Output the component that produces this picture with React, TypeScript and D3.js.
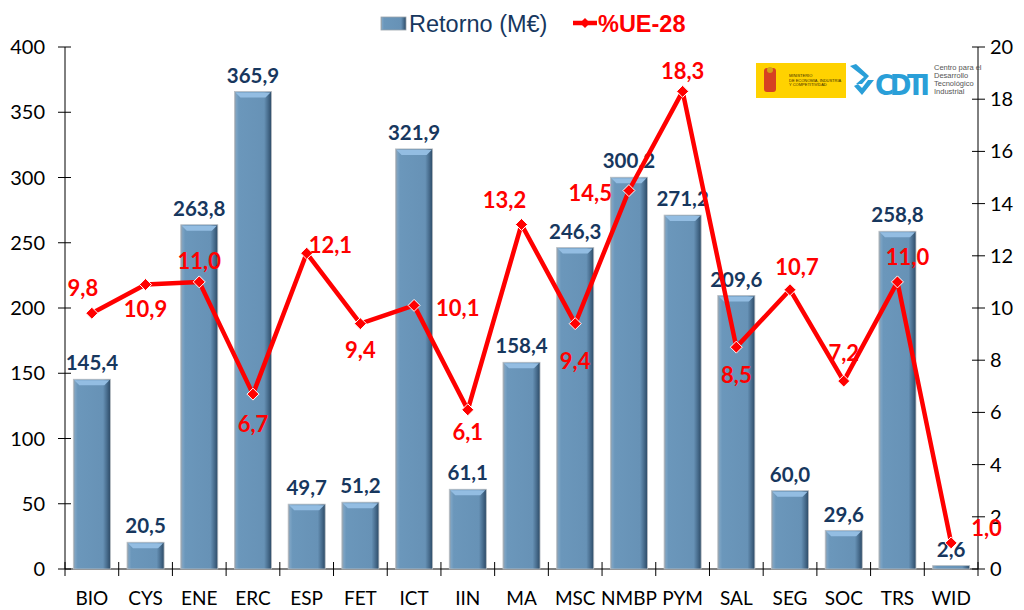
import React, { useEffect, useRef } from "react";
import * as d3 from "d3";

// ---- data ----
const categories = ["BIO", "CYS", "ENE", "ERC", "ESP", "FET", "ICT", "IIN", "MA", "MSC", "NMBP", "PYM", "SAL", "SEG", "SOC", "TRS", "WID"];
const retorno = [145.4, 20.5, 263.8, 365.9, 49.7, 51.2, 321.9, 61.1, 158.4, 246.3, 300.2, 271.2, 209.6, 60.0, 29.6, 258.8, 2.6];
const ue28 = [9.8, 10.9, 11.0, 6.7, 12.1, 9.4, 10.1, 6.1, 13.2, 9.4, 14.5, 18.3, 8.5, 10.7, 7.2, 11.0, 1.0];
const leftTicks = [0, 50, 100, 150, 200, 250, 300, 350, 400];
const rightTicks = [0, 2, 4, 6, 8, 10, 12, 14, 16, 18, 20];

// label placement for the %UE-28 points: [dx, dy, anchor]
const ueLabelPlace: [number, number, string][] = [
  [-9, -25, "middle"], [0, 25, "middle"], [0, -21, "middle"], [0, 30, "middle"], [2, -8, "start"],
  [0, 27, "middle"], [22, 3, "start"], [0, 23, "middle"], [-17, -24, "middle"], [0, 38, "middle"],
  [-17, 3, "end"], [0, -20, "middle"], [0, 28, "middle"], [7, -22, "middle"], [0, -28, "middle"],
  [10, -25, "middle"], [20, -15, "start"],
];

const W = 1024;
const H = 610;
const fmt = (v: number) => v.toFixed(1).replace(".", ",");

export default function App() {
  const ref = useRef<SVGSVGElement>(null);

  useEffect(() => {
    const svg = d3.select(ref.current);
    svg.selectAll("*").remove();

    const left = 65, right = 978, top = 47, bottom = 569;

    const x = d3.scaleBand().domain(categories).range([left, right]).paddingInner(0.31).paddingOuter(0.155);
    const xb = d3.scaleBand().domain(categories).range([left, right]);
    const yL = d3.scaleLinear().domain([0, 400]).range([bottom, top]);
    const yR = d3.scaleLinear().domain([0, 20]).range([bottom, top]);

    const defs = svg.append("defs");
    const g = defs.append("linearGradient").attr("id", "barGrad").attr("x1", 0).attr("x2", 1).attr("y1", 0).attr("y2", 0);
    [[0, "#9aa3ab"], [0.06, "#7aa2c3"], [0.12, "#6b97bb"], [0.8, "#6792b6"], [0.9, "#4a6f90"], [1, "#2c4a66"]].forEach(([o, c]) =>
      g.append("stop").attr("offset", o as number).attr("stop-color", c as string));

    // ---- axes ----
    const ax = svg.append("g").attr("stroke", "#000").attr("stroke-width", 1);
    ax.append("line").attr("x1", left).attr("x2", left).attr("y1", top).attr("y2", bottom);
    ax.append("line").attr("x1", right).attr("x2", right).attr("y1", top).attr("y2", bottom);
    ax.append("line").attr("x1", left).attr("x2", right).attr("y1", bottom).attr("y2", bottom);
    leftTicks.forEach(t => ax.append("line").attr("x1", left - 7).attr("x2", left + 6).attr("y1", yL(t)).attr("y2", yL(t)));
    rightTicks.forEach(t => ax.append("line").attr("x1", right - 6).attr("x2", right + 7).attr("y1", yR(t)).attr("y2", yR(t)));
    categories.forEach(c => {
      const bx = xb(c)!;
      ax.append("line").attr("x1", bx).attr("x2", bx).attr("y1", bottom - 7).attr("y2", bottom + 7);
    });
    ax.append("line").attr("x1", right).attr("x2", right).attr("y1", bottom - 7).attr("y2", bottom + 7);

    const tickFont = "Lato, 'Open Sans', sans-serif";
    svg.append("g").selectAll("text").data(leftTicks).join("text")
      .attr("x", 45).attr("y", d => yL(d)).attr("dy", "0.35em").attr("text-anchor", "end")
      .attr("font-family", tickFont).attr("font-size", 20).attr("fill", "#000").text(d => d);
    svg.append("g").selectAll("text").data(rightTicks).join("text")
      .attr("x", 990).attr("y", d => yR(d)).attr("dy", "0.35em").attr("text-anchor", "start")
      .attr("font-family", tickFont).attr("font-size", 20).attr("fill", "#000").text(d => d);
    svg.append("g").selectAll("text").data(categories).join("text")
      .attr("x", d => xb(d)! + xb.bandwidth() / 2).attr("y", 598).attr("dy", "0.35em").attr("text-anchor", "middle")
      .attr("font-family", tickFont).attr("font-size", 19).attr("fill", "#000").text(d => d);

    // ---- bars ----
    const bars = svg.append("g");
    categories.forEach((c, i) => {
      const bx = x(c)!, bw = x.bandwidth(), by = yL(retorno[i]), bh = bottom - by;
      bars.append("rect").attr("x", bx).attr("y", by).attr("width", bw).attr("height", bh)
        .attr("fill", "url(#barGrad)").attr("stroke", "#b8bec4").attr("stroke-width", 0.8);
      if (bh > 8) {
        bars.append("path")
          .attr("d", `M${bx + 1},${by + 1}L${bx + bw - 1},${by + 1}L${bx + bw - 6},${by + 6}L${bx + 6},${by + 6}Z`)
          .attr("fill", "#93bde2");
      }
    });
    svg.append("g").selectAll("text").data(retorno).join("text")
      .attr("x", (d, i) => x(categories[i])! + x.bandwidth() / 2)
      .attr("y", d => yL(d) - 16).attr("dy", "0.35em").attr("text-anchor", "middle")
      .attr("font-family", tickFont).attr("font-weight", "bold").attr("font-size", 20.5).attr("fill", "#17375e")
      .text(d => fmt(d));

    // ---- %UE-28 line ----
    const cx = (i: number) => xb(categories[i])! + xb.bandwidth() / 2;
    const line = d3.line<number>().x((d, i) => cx(i)).y(d => yR(d));
    svg.append("path").datum(ue28).attr("d", line).attr("fill", "none")
      .attr("stroke", "#ff0000").attr("stroke-width", 4.5).attr("stroke-linejoin", "round");
    svg.append("g").selectAll("path").data(ue28).join("path")
      .attr("d", "M0,-6L6,0L0,6L-6,0Z")
      .attr("transform", (d, i) => `translate(${cx(i)},${yR(d)})`)
      .attr("fill", "#ff0000").attr("stroke", "#fff").attr("stroke-width", 1);

    svg.append("g").selectAll("text").data(ue28).join("text")
      .attr("x", (d, i) => cx(i) + ueLabelPlace[i][0])
      .attr("y", (d, i) => yR(d) + ueLabelPlace[i][1])
      .attr("dy", "0.35em").attr("text-anchor", (d, i) => ueLabelPlace[i][2])
      .attr("font-family", tickFont).attr("font-weight", "bold").attr("font-size", 22).attr("fill", "#ff0000")
      .text(d => fmt(d));

    // ---- legend ----
    const lg = svg.append("g");
    lg.append("rect").attr("x", 381).attr("y", 17).attr("width", 25).attr("height", 13)
      .attr("fill", "url(#barGrad)").attr("stroke", "#9aa3ab").attr("stroke-width", 0.8);
    lg.append("text").attr("x", 409).attr("y", 32).attr("font-family", "'Liberation Sans', Arial, sans-serif")
      .attr("font-size", 23.5).attr("fill", "#17375e").text("Retorno (M€)");
    lg.append("line").attr("x1", 573).attr("x2", 597).attr("y1", 23).attr("y2", 23).attr("stroke", "#ff0000").attr("stroke-width", 4.5);
    lg.append("path").attr("d", "M0,-5L5,0L0,5L-5,0Z").attr("transform", "translate(585,23)").attr("fill", "#ff0000");
    lg.append("text").attr("x", 598).attr("y", 32).attr("font-family", "'Liberation Sans', Arial, sans-serif")
      .attr("font-weight", "bold").attr("font-size", 23.5).attr("fill", "#ff0000").text("%UE-28");

    // ---- logos ----
    const lo = svg.append("g");
    lo.append("rect").attr("x", 756).attr("y", 63).attr("width", 90).attr("height", 35).attr("fill", "#ffd200");
    lo.append("rect").attr("x", 764).attr("y", 68).attr("width", 12).attr("height", 24).attr("rx", 3).attr("fill", "#c8102e").attr("opacity", 0.75);
    lo.append("circle").attr("cx", 770).attr("cy", 70).attr("r", 3).attr("fill", "#d4a017");
    ["MINISTERIO", "DE ECONOMÍA, INDUSTRIA", "Y COMPETITIVIDAD"].forEach((t, i) =>
      lo.append("text").attr("x", 789).attr("y", 77 + i * 4.5).attr("font-family", "'Liberation Sans', Arial, sans-serif")
        .attr("font-size", 4).attr("fill", "#3a2a00").text(t));
    lo.append("path").attr("d", "M850,66L864,77L856,84L862,84L869,76L856,64Z").attr("fill", "#2a9fd8");
    lo.append("path").attr("d", "M854,86L862,95L874,80L868,80L862,88L858,84Z").attr("fill", "#2a9fd8");
    lo.append("text").attr("x", 875).attr("y", 95).attr("font-family", "'Liberation Sans Narrow', 'DejaVu Sans Condensed', sans-serif")
      .attr("font-weight", "bold").attr("font-size", 29).attr("fill", "#2a9fd8").attr("textLength", 55).text("CDTI");
    ["Centro para el", "Desarrollo", "Tecnológico", "Industrial"].forEach((t, i) =>
      lo.append("text").attr("x", 934).attr("y", 70 + i * 8).attr("font-family", "'Liberation Sans Narrow', sans-serif")
        .attr("font-size", 7.5).attr("fill", "#555").text(t));
  }, []);

  return (
    <svg ref={ref} width={W} height={H} viewBox={`0 0 ${W} ${H}`}
      style={{ position: "absolute", left: 0, top: 0, background: "#fff" }} />
  );
}
